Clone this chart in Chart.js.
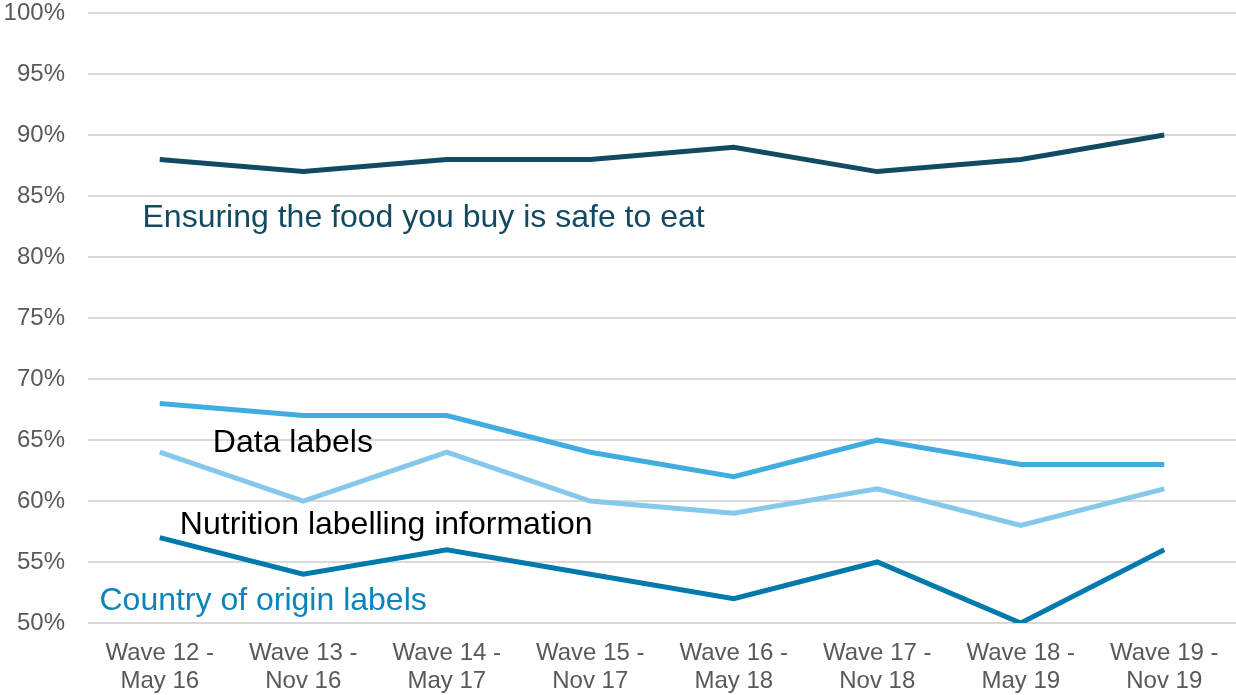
<!DOCTYPE html>
<html>
<head>
<meta charset="utf-8">
<script src="https://cdn.jsdelivr.net/npm/chart.js@4/dist/chart.umd.min.js"></script>
<style>
  html, body { margin: 0; padding: 0; background: #fff; }
  #wrap { width: 1236px; height: 695px; position: relative; }
</style>
</head>
<body>
<div id="wrap"><canvas id="myChart"></canvas></div>
<script>
'use strict';

var waves = [
  ['Wave 12 -', 'May 16'], ['Wave 13 -', 'Nov 16'], ['Wave 14 -', 'May 17'], ['Wave 15 -', 'Nov 17'],
  ['Wave 16 -', 'May 18'], ['Wave 17 -', 'Nov 18'], ['Wave 18 -', 'May 19'], ['Wave 19 -', 'Nov 19']
];
var safeToEat = [88, 87, 88, 88, 89, 87, 88, 90];
var dataLabels = [68, 67, 67, 64, 62, 65, 63, 63];
var nutrition = [64, 60, 64, 60, 59, 61, 58, 61];
var countryOfOrigin = [57, 54, 56, 54, 52, 55, 50, 56];

var seriesNames = ['Ensuring the food you buy is safe to eat', 'Data labels',
  'Nutrition labelling information', 'Country of origin labels'];
var seriesColors = ['#124a62', '#41acdf', '#85c8ec', '#0079ac'];

// text labels placed on the chart (x in category units, y in %)
var noteText = seriesNames;
var noteColor = ['#124a62', '#000000', '#000000', '#0a84ba'];
var noteX = [-0.12, 0.37, 0.14, -0.42];
var noteY = [83.2, 64.75, 58.0, 51.8];

var notesPlugin = {
  id: 'notes',
  afterDatasetsDraw: function(chart) {
    var ctx = chart.ctx;
    var xs = chart.scales.x, ys = chart.scales.y;
    ctx.save();
    ctx.font = '32px "Liberation Sans", Arial, sans-serif';
    ctx.textAlign = 'left';
    ctx.textBaseline = 'middle';
    for (var i = 0; i < noteText.length; i++) {
      ctx.fillStyle = noteColor[i];
      ctx.fillText(noteText[i], xs.getPixelForValue(noteX[i]), ys.getPixelForValue(noteY[i]));
    }
    ctx.restore();
  }
};

var series = [safeToEat, dataLabels, nutrition, countryOfOrigin];
var datasets = [];
for (var i = 0; i < series.length; i++) {
  datasets.push({
    label: seriesNames[i],
    data: series[i],
    borderColor: seriesColors[i],
    backgroundColor: seriesColors[i],
    borderWidth: 5,
    pointRadius: 0,
    tension: 0,
    fill: false
  });
}

var ctx = document.getElementById('myChart').getContext('2d');
var chart = new Chart(ctx, {
  type: 'line',
  data: { labels: waves, datasets: datasets },
  plugins: [notesPlugin],
  options: {
    responsive: true,
    maintainAspectRatio: false,
    animation: false,
    layout: { padding: 0 },
    plugins: { legend: { display: false }, tooltip: { enabled: false } },
    scales: {
      x: {
        offset: true,
        grid: { display: false },
        border: { display: false },
        afterFit: function(scale) { scale.height = 72; scale.paddingTop = 0; scale.paddingBottom = 0; },
        ticks: {
          color: '#595959',
          font: { family: '"Liberation Sans", Arial, sans-serif', size: 24, lineHeight: 1.18 },
          padding: 8,
          maxRotation: 0,
          autoSkip: false
        }
      },
      y: {
        min: 50,
        max: 100,
        grid: { color: '#d9d9d9', lineWidth: 2, drawTicks: false },
        border: { display: false },
        afterFit: function(scale) { scale.width = 88; scale.paddingTop = 13; scale.paddingBottom = 0; },
        ticks: {
          stepSize: 5,
          color: '#595959',
          padding: 23,
          font: { family: '"Liberation Sans", Arial, sans-serif', size: 24 },
          callback: function(v) { return v + '%'; }
        }
      }
    }
  }
});
</script>
</body>
</html>
